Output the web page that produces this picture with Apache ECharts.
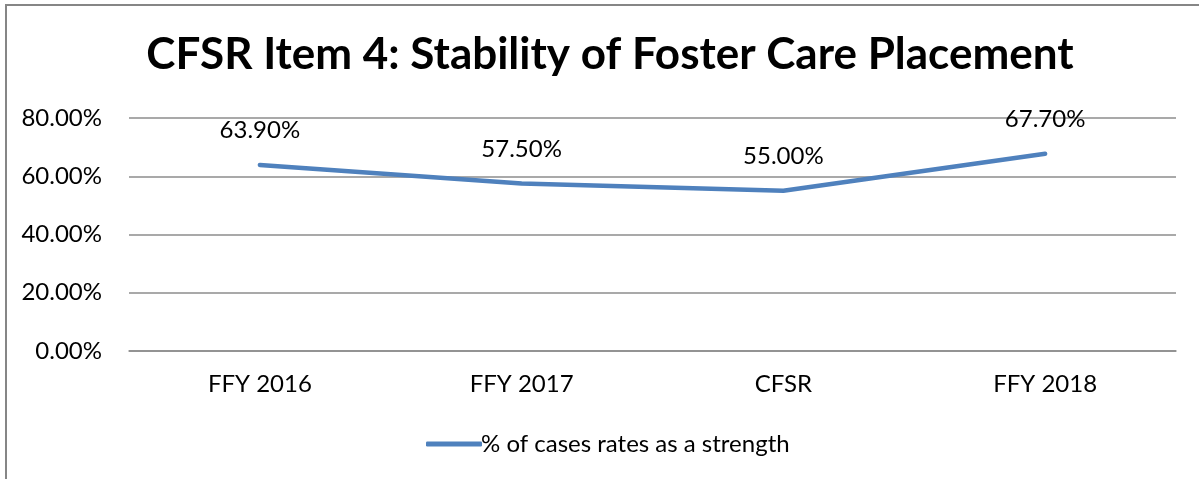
<!DOCTYPE html>
<html lang="en">
<head>
    <meta charset="UTF-8">
    <title>CFSR Item 4</title>
    <script src="https://cdn.jsdelivr.net/npm/echarts@6/dist/echarts.min.js"></script>
    <style>
        html, body { margin: 0; padding: 0; background: #fff; }
    </style>
</head>
<body>
<div id="main" style="width: 1199px;height:479px;"></div>
<script type="text/javascript">
    // data
    var categories = ['FFY 2016', 'FFY 2017', 'CFSR', 'FFY 2018'];
    var strengthRates = [63.9, 57.5, 55.0, 67.7];
    var yTicks = { min: 0, max: 80, interval: 20 };
    var seriesName = '% of cases rates as a strength';

    var font = 'Lato, "Open Sans", sans-serif';

    var myChart = echarts.init(document.getElementById('main'));
    myChart.setOption({
        animation: false,
        textStyle: { fontFamily: font },
        title: {
            text: 'CFSR Item 4: Stability of Foster Care Placement',
            left: 605,
            textAlign: 'center',
            top: 28,
            textStyle: { fontSize: 44, fontWeight: 'bold', color: '#000', fontFamily: font }
        },
        graphic: [{
            type: 'rect',
            shape: { x: 6, y: 5, width: 1400, height: 700 },
            style: { fill: 'none', stroke: '#868686', lineWidth: 2 },
            silent: true
        }],
        legend: {
            left: 421,
            top: 427,
            itemWidth: 56,
            itemHeight: 5,
            icon: 'roundRect',
            textStyle: { fontSize: 24, color: '#000', fontFamily: font, padding: [0, 0, 0, -6] },
            data: [seriesName]
        },
        grid: { left: 129, right: 23, top: 118, bottom: 128 },
        xAxis: {
            type: 'category',
            data: categories,
            axisLine: { show: true, lineStyle: { color: '#8c8c8c', width: 1.5 } },
            axisTick: { show: false },
            axisLabel: { fontSize: 24, color: '#000', margin: 21, fontFamily: font }
        },
        yAxis: {
            type: 'value',
            min: yTicks.min,
            max: yTicks.max,
            interval: yTicks.interval,
            axisLine: { show: false },
            axisTick: { show: false },
            axisLabel: {
                fontSize: 24, color: '#000', margin: 27, fontFamily: font,
                formatter: function (v) { return v.toFixed(2) + '%'; }
            },
            splitLine: { lineStyle: { color: '#8c8c8c', width: 1.5 } }
        },
        series: [{
            name: seriesName,
            type: 'line',
            data: strengthRates,
            symbol: 'circle',
            symbolSize: 1,
            itemStyle: { color: '#4F81BD' },
            lineStyle: { color: '#4F81BD', width: 4.5, cap: 'round' },
            label: {
                show: true,
                position: 'top',
                distance: 22,
                fontSize: 24,
                color: '#000',
                fontFamily: font,
                formatter: function (p) { return p.value.toFixed(2) + '%'; }
            }
        }]
    });
</script>
</body>
</html>
